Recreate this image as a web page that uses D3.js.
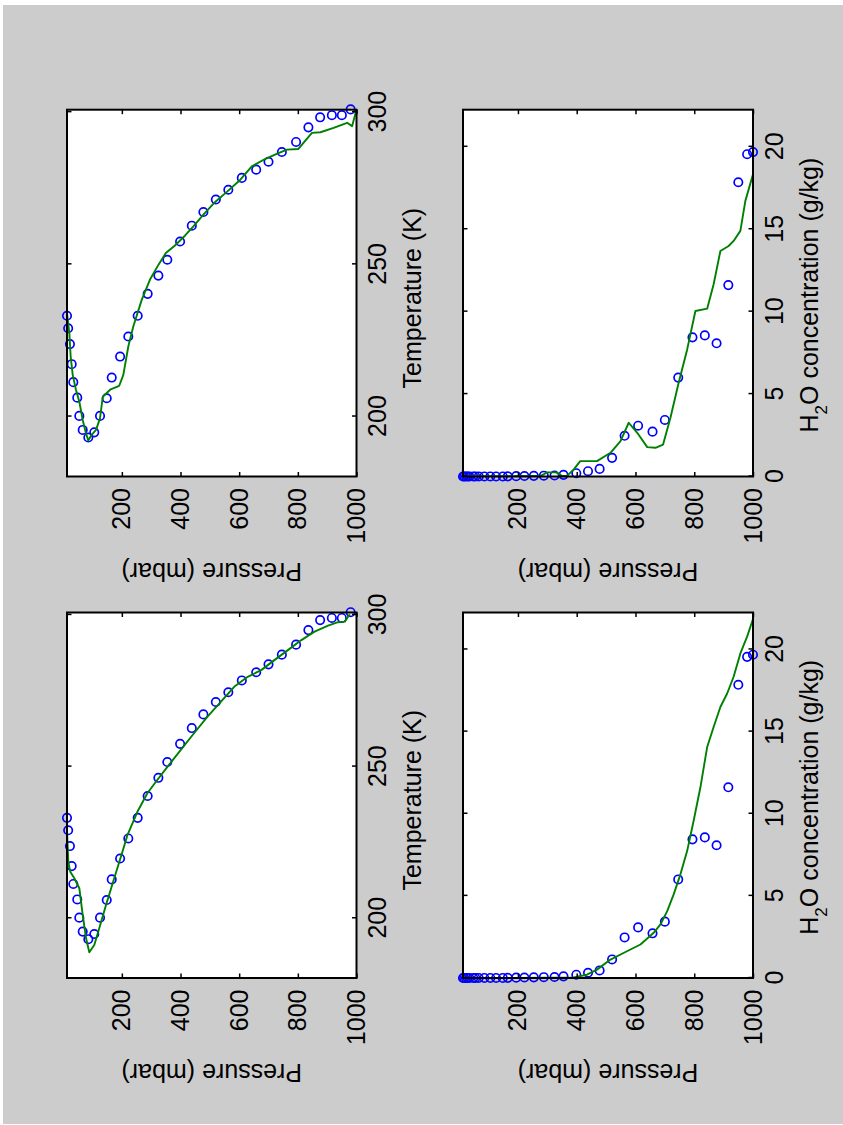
<!DOCTYPE html>
<html>
<head>
<meta charset="utf-8">
<script src="https://cdn.jsdelivr.net/npm/d3@7"></script>
<style>
  html, body { margin: 0; padding: 0; background: #ffffff; }
  svg { display: block; }
  text { font-family: "Liberation Sans", Arial, Helvetica, sans-serif; fill: #000; }
</style>
</head>
<body>
<svg id="fig" width="843" height="1125"></svg>
<script>
// ---- Sounding levels (mbar) and the measured profiles -----------------
const pressureLevels = [13, 17, 23, 29, 34.5, 48, 55, 66.6, 85.7, 106, 125.6, 148.5, 165.5, 194,
  222, 254, 288, 324.5, 355, 398.6, 438.5, 478, 520.4, 563, 609, 658, 700, 745.5, 794, 836,
  876, 916, 950, 980, 1000];

// temperature (K); no temperature reported at the 1000 mbar level
const temperatureObs = [233.1, 229.0, 223.8, 217.2, 211.3, 206.2, 200.2, 195.6, 193.1, 194.8,
  200.2, 206.0, 212.8, 219.7, 226.3, 233.1, 240.3, 246.3, 251.5, 257.5, 262.7, 267.2, 271.3,
  274.5, 278.4, 281.1, 283.7, 286.9, 290.2, 295.0, 298.3, 299.0, 299.0, 300.9, null];

// water vapour mixing ratio (g/kg)
const h2oObs = [0.003, 0.003, 0.003, 0.003, 0.003, 0.003, 0.003, 0.003, 0.003, 0.003, 0.003,
  0.003, 0.01, 0.02, 0.03, 0.04, 0.05, 0.06, 0.1, 0.2, 0.32, 0.46, 1.13, 2.47, 3.08, 2.72,
  3.43, 6.0, 8.44, 8.56, 8.08, 11.61, 17.85, 19.55, 19.68];

// ---- Retrieved profiles ------------------------------------------------
// smooth temperature retrieval
const tempSmoothP = [13, 17.5, 24, 38, 55, 66.5, 78, 89, 106, 123, 146, 174, 202, 219, 253, 287,
  316, 356, 401, 446, 492, 538, 583, 629, 675, 720, 766, 812, 857, 903, 937, 960, 977];
const tempSmoothT = [229, 218.6, 215.3, 213.2, 209.9, 201.1, 193.4, 188.8, 191.2, 196.7, 204.4,
  213.2, 221.9, 227.4, 235.1, 241.2, 245, 250, 255.5, 261, 266.5, 271.4, 276.3, 279.6, 281.8,
  285.1, 288.4, 291.7, 294.5, 296.5, 297.6, 297.8, 300.2];

// detailed temperature retrieval
const tempDetailP = [13, 21, 25.5, 32.5, 43.5, 55, 66.5, 77.5, 85.5, 97, 112, 125.5, 135, 160, 191,
  205, 222, 239, 268, 296, 325, 350, 381, 415, 444, 478, 518, 558, 604, 643, 688, 728, 763, 802,
  848, 877, 922, 968, 985, 1000];
const tempDetailT = [234, 227.4, 219.7, 213.7, 208.8, 204.9, 198.9, 194.5, 192.1, 194, 195.6,
  199.4, 206.5, 208.8, 210.1, 213.7, 223, 229.6, 238.4, 245, 249.9, 253.7, 256.2, 259.4, 262.5,
  266.3, 270.5, 273.8, 277.8, 282.2, 284.6, 286.3, 287.7, 287.9, 293.2, 293.4, 294.8, 296.5,
  295.4, 300.9];

// smooth water vapour retrieval
const h2oSmoothP = [13, 200, 390, 435, 469, 515, 571, 617, 662, 685, 708, 730, 753, 776, 798, 821,
  844, 866, 889, 912, 934, 957, 980, 1000];
const h2oSmoothQ = [0, 0.01, 0.04, 0.2, 0.51, 1.12, 1.63, 2.04, 2.75, 3.26, 4.07, 5.09, 6.31,
  7.74, 9.57, 11.61, 14.06, 15.28, 16.5, 17.32, 18.34, 19.76, 20.78, 21.85];

// detailed water vapour retrieval
const h2oDetailP = [13, 150, 276, 300, 330, 350, 367, 390, 412, 469, 515, 549, 577, 606, 640, 668,
  694, 719, 747, 776, 804, 844, 866, 889, 917, 934, 957, 974, 1000];
const h2oDetailQ = [0.02, 0.02, 0.03, 0.25, 0.25, 0.04, 0.04, 0.43, 0.93, 0.93, 1.44, 2.14, 3.26,
  2.65, 1.78, 1.74, 1.94, 3.56, 5.69, 7.71, 10.04, 10.18, 11.66, 13.68, 13.98, 14.29, 14.9,
  16.72, 18.34];

// ---- Axis ticks --------------------------------------------------------
const pressureTicks = [200, 400, 600, 800, 1000];
const temperatureTicks = [200, 250, 300];
const h2oTicks = [0, 5, 10, 15, 20];

const pressureDomain = [13, 1000];
const temperatureDomain = [180.3, 300.8];
const h2oDomain = [0, 22.25];

// ---- Figure --------------------------------------------------------------
const svg = d3.select("#fig");
const W = 843, H = 1125;

// figure background
svg.append("rect").attr("x", 3).attr("y", 5).attr("width", W - 3).attr("height", 1119)
  .attr("fill", "#cccccc");

// the figure is laid out in landscape and turned a quarter turn
const fig = svg.append("g").attr("transform", `translate(0,${H}) rotate(-90)`);

const cols = [[147, 512.5], [648.5, 1015.3]];
const rows = [[67, 356.5], [463, 753]];

const panels = [
  { col: 0, row: 0, kind: "T", obs: temperatureObs, fitP: tempSmoothP, fitV: tempSmoothT },
  { col: 1, row: 0, kind: "T", obs: temperatureObs, fitP: tempDetailP, fitV: tempDetailT },
  { col: 0, row: 1, kind: "Q", obs: h2oObs, fitP: h2oSmoothP, fitV: h2oSmoothQ },
  { col: 1, row: 1, kind: "Q", obs: h2oObs, fitP: h2oDetailP, fitV: h2oDetailQ }
];

const FS = 25;        // font size
const TICK = 4.5;     // inward tick length

panels.forEach(pn => {
  const [u0, u1] = cols[pn.col];
  const [v0, v1] = rows[pn.row];
  const isT = pn.kind === "T";

  const x = d3.scaleLinear().domain(isT ? temperatureDomain : h2oDomain).range([u0, u1]);
  const y = d3.scaleLinear().domain(pressureDomain).range([v0, v1]);

  const g = fig.append("g");

  // plotting area
  g.append("rect").attr("x", u0).attr("y", v0).attr("width", u1 - u0).attr("height", v1 - v0)
    .attr("fill", "#ffffff");

  const clipId = `clip-${pn.col}-${pn.row}`;
  g.append("clipPath").attr("id", clipId).append("rect")
    .attr("x", u0 - 6).attr("y", v0 - 6).attr("width", u1 - u0 + 12).attr("height", v1 - v0 + 12);

  // observed profile as open circles
  const obsPts = pressureLevels.map((p, i) => [p, pn.obs[i]]).filter(d => d[1] != null);
  g.append("g").attr("clip-path", `url(#${clipId})`)
    .selectAll("circle").data(obsPts).join("circle")
    .attr("cx", d => x(d[1])).attr("cy", d => y(d[0])).attr("r", 4.2)
    .attr("fill", "none").attr("stroke", "#0000ff").attr("stroke-width", 1.7);

  // retrieved profile as green line
  const fit = pn.fitP.map((p, i) => [p, pn.fitV[i]]);
  g.append("path").datum(fit)
    .attr("d", d3.line().x(d => x(d[1])).y(d => y(d[0])))
    .attr("fill", "none").attr("stroke", "#008000").attr("stroke-width", 1.9)
    .attr("stroke-linejoin", "round");

  const xTicks = isT ? temperatureTicks : h2oTicks;

  // axes with inward ticks on all four sides
  const axB = g.append("g").attr("transform", `translate(0,${v1})`)
    .call(d3.axisBottom(x).tickValues(xTicks).tickSize(-TICK).tickPadding(12).tickFormat(d3.format("d")));
  const axT = g.append("g").attr("transform", `translate(0,${v0})`)
    .call(d3.axisTop(x).tickValues(xTicks).tickSize(-TICK).tickFormat(""));
  const axL = g.append("g").attr("transform", `translate(${u0},0)`)
    .call(d3.axisLeft(y).tickValues(pressureTicks).tickSize(-TICK).tickPadding(11.5).tickFormat(d3.format("d")));
  const axR = g.append("g").attr("transform", `translate(${u1},0)`)
    .call(d3.axisRight(y).tickValues(pressureTicks).tickSize(-TICK).tickFormat(""));

  [axB, axT, axL, axR].forEach(a => {
    a.select(".domain").remove();
    a.selectAll(".tick line").attr("stroke", "#000").attr("stroke-width", 1.5);
    a.selectAll("text").attr("font-size", FS).attr("font-family", null).attr("fill", "#000");
  });

  // box
  g.append("rect").attr("x", u0).attr("y", v0).attr("width", u1 - u0).attr("height", v1 - v0)
    .attr("fill", "none").attr("stroke", "#000").attr("stroke-width", 2);

  // x label
  const cu = (u0 + u1) / 2;
  if (isT) {
    g.append("text").attr("x", cu - 5).attr("y", v1 + 64.5).attr("text-anchor", "middle")
      .attr("font-size", FS).text("Temperature (K)");
  } else {
    const t = g.append("text").attr("x", cu - 2).attr("y", v1 + 65).attr("text-anchor", "middle")
      .attr("font-size", FS);
    t.append("tspan").text("H");
    t.append("tspan").attr("font-size", 17).attr("dy", 9).text("2");
    t.append("tspan").attr("dy", -9).text("O concentration (g/kg)");
  }

  // y label
  const cv = (v0 + v1) / 2;
  g.append("text").attr("transform", `translate(${u0 - 86},${cv}) rotate(-90)`)
    .attr("text-anchor", "middle").attr("font-size", FS).text("Pressure (mbar)");
});
</script>
</body>
</html>
